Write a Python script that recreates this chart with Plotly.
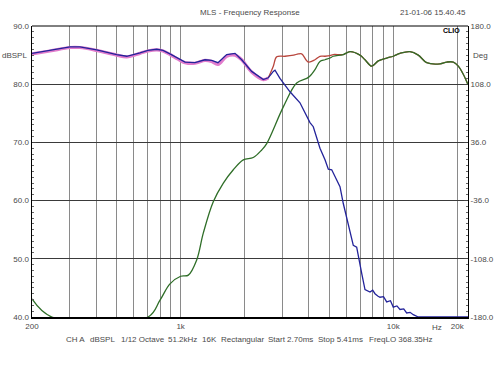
import plotly.graph_objects as go

# ---- data (frequency in Hz, level in dBSPL) ----
woofer_f = [200, 243, 302, 336, 403, 500, 558, 644, 702, 772, 826, 891, 972, 1049, 1168,
            1302, 1400, 1498, 1647, 1802, 1937, 2158, 2448, 2584, 2728, 2778, 2932, 3040,
            3268, 3641, 3916, 4058, 4206, 4364, 4522, 4775, 4949, 5134, 5320, 5616, 5820,
            6040, 6258, 6486, 6728, 6974, 7104, 7362, 7772, 8000, 8204, 8450, 8660, 9000,
            9312, 9700, 10000, 10400, 10754, 11200, 11560, 12000, 12420, 13112, 22460]
woofer_db = [85.3, 85.8, 86.4, 86.4, 85.9, 85.1, 84.8, 85.4, 85.8, 86.0, 85.8, 85.2, 84.4, 83.8, 83.7,
             84.2, 84.1, 83.7, 85.1, 85.3, 84.2, 82.2, 80.8, 81.1, 82.2, 82.4, 81.0, 80.2,
             78.7, 76.8, 74.4, 73.4, 72.7, 71.0, 69.0, 67.0, 65.4, 65.3, 64.1, 62.4, 59.5,
             57.2, 54.9, 52.3, 52.0, 48.6, 47.5, 44.7, 44.3, 44.6, 44.0, 43.6, 43.4, 43.5,
             42.6, 42.8, 41.7, 41.9, 41.3, 41.4, 40.7, 40.8, 40.4, 40.0, 40.0]

pink_f = [200, 243, 302, 336, 403, 500, 558, 644, 702, 772, 826, 891, 972, 1049, 1168,
          1302, 1400, 1498, 1647, 1802, 1937, 2158, 2448, 2584]
pink_db = [85.2, 85.7, 86.3, 86.3, 85.8, 85.0, 84.7, 85.3, 85.7, 85.9, 85.7, 85.1, 84.3, 83.7, 83.6,
           84.1, 83.9, 83.4, 84.8, 85.0, 84.2, 82.1, 80.8, 81.1]

sum_f = [2584, 2728, 2830, 3096, 3400, 3576, 3710, 3986, 4284, 4522, 4775, 5040, 5224, 5820,
         6258, 6974, 7362, 7920, 8500, 9312, 10000, 10754, 11986, 13112, 14360, 16590,
         17830, 19160, 20220, 21340, 22460]
sum_db = [81.1, 83.1, 84.7, 84.8, 85.0, 85.2, 85.2, 83.8, 84.2, 84.8, 84.8, 84.9, 85.1, 85.1,
          85.6, 85.0, 84.2, 83.1, 84.0, 84.5, 84.8, 85.3, 85.6, 85.0, 83.7, 83.5,
          83.8, 83.8, 83.1, 81.7, 79.9]

tweeter_f = [200, 248, 702, 800, 891, 1000, 1087, 1190, 1278, 1424, 1588, 1769, 1971, 2196,
             2406, 2540, 3040, 3514, 3916, 4058, 4284, 4522, 4775, 5040, 5224, 5820, 6258,
             6974, 7362, 7920, 8500, 9312, 10000, 10754, 11986, 13112, 14360, 16590, 17830,
             19160, 20220, 21340, 22460]
tweeter_db = [43.1, 40.0, 40.0, 42.9, 45.7, 47.0, 47.2, 49.8, 54.4, 59.8, 63.0, 65.3, 67.0, 67.4,
              68.7, 69.8, 76.1, 80.2, 81.0, 81.4, 82.5, 83.9, 84.2, 84.5, 84.8, 85.1, 85.6,
              85.0, 84.2, 83.1, 84.0, 84.5, 84.8, 85.3, 85.6, 85.0, 83.7, 83.5, 83.8,
              83.8, 83.1, 81.7, 79.9]

x_grid = [200, 300, 400, 500, 600, 700, 800, 900, 1000, 2000, 3000, 4000, 5000, 6000,
          7000, 8000, 9000, 10000, 20000]
x_labels = ["200", "", "", "", "", "", "", "", "1k", "", "", "", "", "", "", "", "", "10k", "20k"]
db_ticks = [40, 50, 60, 70, 80, 90]
db_labels = ["40.0", "50.0", "60.0", "70.0", "80.0", "90.0"]
deg_ticks = [-180, -108, -36, 36, 108, 180]
deg_labels = ["-180.0", "-108.0", "-36.0", "36.0", "108.0", "180.0"]
footer = [("CH A", 64), ("dBSPL", 88), ("1/12 Octave", 119), ("51.2kHz", 166), ("16K", 200),
          ("Rectangular", 219), ("Start 2.70ms", 266), ("Stop 5.41ms", 316),
          ("FreqLO 368.35Hz", 367)]

FONT = "Liberation Sans, Arial, sans-serif"
TXT = "#4a4a4a"
FS = 8

# plot box in window pixels (page body margin is removed by post_script)
PL, PR, PT, PB = 32, 468, 26, 317
W, H = 500, 375
ml, mt = PL, PT
mr = W - PR
mb = H - PB
pw = PR - PL
ph = PB - PT


def px_x(px):
    return (px - PL) / pw


def px_y(py):
    return (PB - py) / ph


fig = go.Figure()
fig.add_trace(go.Scatter(x=pink_f, y=pink_db, mode="lines",
                         line=dict(color="#e27ccc", width=3.2, shape="spline"), hoverinfo="skip"))
fig.add_trace(go.Scatter(x=sum_f, y=sum_db, mode="lines",
                         line=dict(color="#b8453c", width=1.3, shape="spline"), hoverinfo="skip"))
fig.add_trace(go.Scatter(x=tweeter_f, y=tweeter_db, mode="lines",
                         line=dict(color="#2f6e28", width=1.3, shape="spline"), hoverinfo="skip"))
fig.add_trace(go.Scatter(x=woofer_f, y=woofer_db, mode="lines",
                         line=dict(color="#23239a", width=1.3), hoverinfo="skip"))
fig.add_trace(go.Scatter(x=[], y=[], yaxis="y2", showlegend=False))

fig.update_layout(
    template="none",
    width=W, height=H,
    margin=dict(l=ml, r=mr, t=mt, b=mb, pad=0),
    paper_bgcolor="white", plot_bgcolor="white",
    showlegend=False,
    hovermode=False,
    font=dict(family=FONT, size=FS, color=TXT),
    xaxis=dict(type="log", range=[2.30103, 4.35141], automargin=False,
               tickvals=x_grid, ticktext=x_labels, ticks="",
               showgrid=True, gridcolor="#8a8a8a", gridwidth=1,
               showline=True, linecolor="black", linewidth=2, mirror=False,
               tickfont=dict(size=FS, color=TXT), zeroline=False, layer="below traces"),
    yaxis=dict(range=[40, 90], tickvals=db_ticks, ticktext=db_labels, automargin=False,
               ticks="inside", ticklen=4, tickcolor="#444",
               minor=dict(dtick=1, ticks="inside", ticklen=2, tickcolor="#666", showgrid=False),
               showgrid=True, gridcolor="#3a3a3a", gridwidth=1,
               showline=True, linecolor="black", linewidth=1.5, mirror=False,
               tickfont=dict(size=FS, color=TXT), zeroline=False),
    yaxis2=dict(range=[-180, 180], overlaying="y", side="right", automargin=False,
                tickvals=deg_ticks, ticktext=deg_labels,
                ticks="inside", ticklen=4, tickcolor="#444",
                minor=dict(dtick=7.2, ticks="inside", ticklen=2, tickcolor="#666", showgrid=False),
                showgrid=False, showline=True, linecolor="black", linewidth=1,
                tickfont=dict(size=FS, color=TXT), zeroline=False),
)

# top frame line
fig.add_shape(type="line", xref="paper", yref="paper", x0=0, x1=1, y0=1, y1=1,
              line=dict(color="black", width=1))

fig.add_annotation(text="MLS - Frequency Response", xref="paper", yref="paper",
                   x=px_x(250), y=px_y(13), xanchor="center", yanchor="middle", showarrow=False,
                   font=dict(size=FS, color=TXT))
fig.add_annotation(text="21-01-06 15.40.45", xref="paper", yref="paper",
                   x=1.0, y=px_y(13), xanchor="right", yanchor="middle", showarrow=False,
                   font=dict(size=FS, color=TXT))
fig.add_annotation(text="<b>CLIO</b>", xref="paper", yref="paper",
                   x=px_x(451.5), y=px_y(30.5), xanchor="center", yanchor="middle",
                   showarrow=False, font=dict(size=7, color="black"))
fig.add_annotation(text="dBSPL", xref="paper", yref="y", x=px_x(29), y=85,
                   xanchor="right", yanchor="middle", showarrow=False,
                   font=dict(size=FS, color=TXT))
fig.add_annotation(text="Deg", xref="paper", yref="y", x=px_x(471), y=85,
                   xanchor="left", yanchor="middle", showarrow=False,
                   font=dict(size=FS, color=TXT))
fig.add_annotation(text="Hz", xref="paper", yref="paper", x=px_x(437), y=px_y(327),
                   xanchor="center", yanchor="middle", showarrow=False,
                   font=dict(size=FS, color=TXT))
for label, px in footer:
    fig.add_annotation(text=label, xref="paper", yref="paper", x=px_x(px), y=px_y(339),
                       xanchor="left", yanchor="middle", showarrow=False,
                       font=dict(size=FS, color=TXT))

fig.write_html("out.html",
               config={"displayModeBar": False, "staticPlot": True},
               post_script="document.body.style.margin='0';document.body.style.padding='0';")
